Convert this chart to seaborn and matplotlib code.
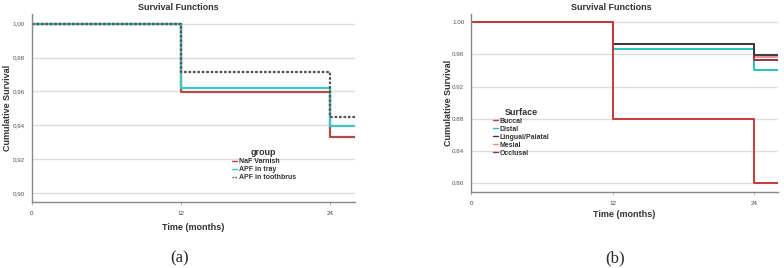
import numpy as np
import pandas as pd
import matplotlib
matplotlib.use("Agg")
import matplotlib.pyplot as plt
import seaborn as sns

sns.set_style("white")
plt.rcParams['font.family'] = ['Liberation Sans', 'DejaVu Sans']

# ---- data ----
times = [0, 12, 24, 26]

groups_a = ["NaF Varnish", "APF in tray", "APF in toothbrus"]
naf_varnish = [1.000, 0.9598, 0.9333, 0.9333]
apf_tray = [1.000, 0.9622, 0.9396, 0.9396]
apf_toothbrush = [1.000, 0.9715, 0.9450, 0.9450]
colors_a = ["#b5484b", "#3cc8c0", "#555555"]

surfaces_b = ["Buccal", "Distal", "Lingual/Palatal", "Mesial", "Occlusal"]
buccal = [1.000, 0.8797, 0.800, 0.800]
distal = [1.000, 0.9670, 0.9406, 0.9406]
lingual = [1.000, 0.9730, 0.9597, 0.9597]
mesial = [1.000, 0.9730, 0.9564, 0.9564]
occlusal = [1.000, 0.9730, 0.9535, 0.9535]
colors_b = ["#c8383c", "#27c4bd", "#3a3a3a", "#f09090", "#9a3040"]
draw_order_b = ["Distal", "Mesial", "Occlusal", "Lingual/Palatal", "Buccal"]

yticks_a = [0.90, 0.92, 0.94, 0.96, 0.98, 1.00]
yticks_b = [0.80, 0.84, 0.88, 0.92, 0.96, 1.00]
xticks = [0, 12, 24]

def long_df(names, series):
    rows = []
    for n, s in zip(names, series):
        for t, v in zip(times, s):
            rows.append({"time": t, "surv": v, "grp": n})
    return pd.DataFrame(rows)

df_a = long_df(groups_a, [naf_varnish, apf_tray, apf_toothbrush])
df_b = long_df(surfaces_b, [buccal, distal, lingual, mesial, occlusal])

fig = plt.figure(figsize=(7.84, 2.68), dpi=100)
ax_a = fig.add_axes([0.0408, 0.2463, 0.4120, 0.7015])
ax_b = fig.add_axes([0.6011, 0.2836, 0.3909, 0.6642])

def style_axes(ax, yticks, ylim, sep, title_x, xlabel_pad, ylabel_x):
    ax.set_xlim(0, 26)
    ax.set_ylim(*ylim)
    ax.set_yticks(yticks)
    ax.set_yticklabels([f"{v:.2f}".replace(".", sep) for v in yticks], fontsize=4.5, color="#555555")
    ax.set_xticks(xticks)
    ax.set_xticklabels([str(x) for x in xticks], fontsize=4.5, color="#444444")
    ax.yaxis.grid(True, color="#dddddd", linewidth=1.0)
    ax.xaxis.grid(False)
    for s in ["top", "right"]:
        ax.spines[s].set_visible(False)
    for s in ["left", "bottom"]:
        ax.spines[s].set_color("#888888")
        ax.spines[s].set_linewidth(1.0)
    ax.tick_params(axis="x", length=2.5, width=0.6, color="#aaaaaa", pad=4, bottom=True)
    ax.tick_params(axis="y", length=0, pad=5)
    ax.set_title("Survival Functions", fontsize=6.5, fontweight="bold", color="#333333",
                 pad=3, x=title_x)
    ax.set_xlabel("Time (months)", fontsize=6.5, fontweight="bold", color="#333333",
                  labelpad=xlabel_pad)
    ax.set_ylabel("Cumulative Survival", fontsize=6.5, fontweight="bold", color="#333333")
    ax.yaxis.set_label_coords(ylabel_x, 0.5)

# panel a
sns.lineplot(data=df_a, x="time", y="surv", hue="grp", style="grp",
             hue_order=groups_a, style_order=groups_a,
             palette=dict(zip(groups_a, colors_a)),
             dashes={groups_a[0]: "", groups_a[1]: "", groups_a[2]: (1.2, 0.8)},
             drawstyle="steps-post", linewidth=1.6, ax=ax_a, legend=False)
style_axes(ax_a, yticks_a, (0.8947, 1.0057), ",", 0.452, 5, -0.063)

# panel b
sns.lineplot(data=df_b, x="time", y="surv", hue="grp",
             hue_order=draw_order_b, palette=dict(zip(surfaces_b, colors_b)),
             drawstyle="steps-post", linewidth=1.4, ax=ax_b, legend=False)
style_axes(ax_b, yticks_b, (0.7888, 1.0103), ".", 0.456, 3, -0.061)

from matplotlib.lines import Line2D
def make_legend(ax, names, colors, title, loc, dashed=None):
    handles = []
    for i, (n, c) in enumerate(zip(names, colors)):
        ls = (0, (1.2, 0.8)) if dashed == i else "-"
        handles.append(Line2D([0], [0], color=c, lw=1.0, ls=ls))
    leg = ax.legend(handles, names, title=title, loc="upper left", bbox_to_anchor=loc,
                    frameon=False, fontsize=5, title_fontsize=6.5,
                    handlelength=0.8, handletextpad=0.2, labelspacing=0.15,
                    borderaxespad=0, alignment="center")
    for t in leg.get_texts():
        t.set_fontweight("bold")
        t.set_color("#333333")
    leg.get_title().set_fontweight("bold")
    leg.get_title().set_color("#333333")

make_legend(ax_a, groups_a, colors_a, "group", (0.61, 0.302), dashed=2)
make_legend(ax_b, surfaces_b, colors_b, "Surface", (0.061, 0.49))

fig.text(180 / 784, 1 - 258 / 268, "(a)", fontsize=12, family="Liberation Serif",
         ha="center", va="center")
fig.text(615 / 784, 1 - 258 / 268, "(b)", fontsize=12, family="Liberation Serif",
         ha="center", va="center")

fig.savefig("out.png", dpi=100)
